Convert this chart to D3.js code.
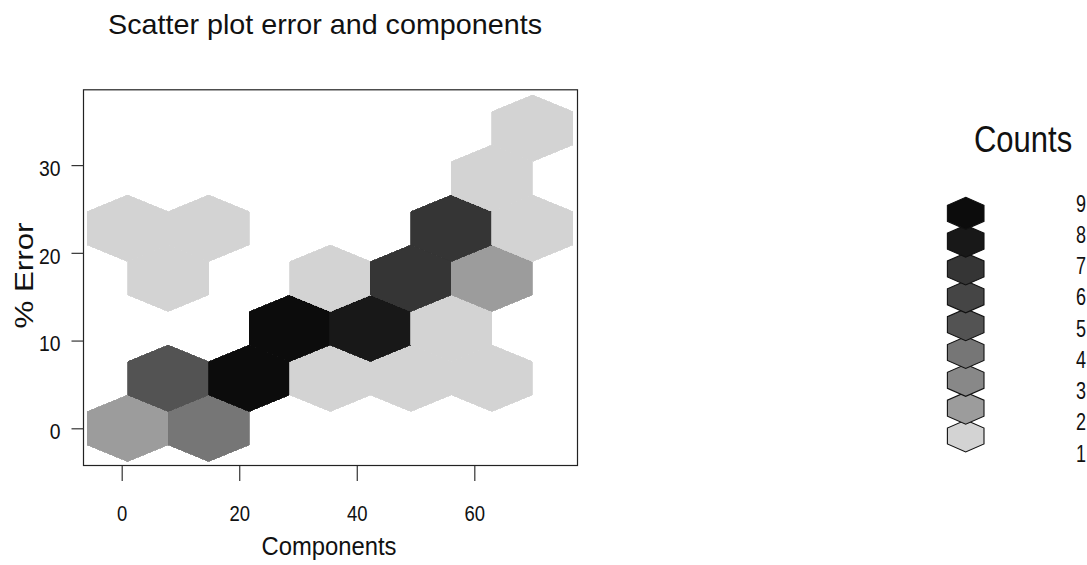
<!DOCTYPE html>
<html>
<head>
<meta charset="utf-8">
<script src="https://cdn.jsdelivr.net/npm/d3@7"></script>
<style>
  body { margin: 0; background: #fff; }
  svg { display: block; }
  text { font-family: "Liberation Sans", Arial, sans-serif; fill: #111; }
</style>
</head>
<body>
<div id="chart"></div>
<script>
// hexbin cells (centre x, centre y, count)
const cellX = [1.0, 14.8, 7.9, 21.7, 35.5, 49.2, 63.0, 28.6, 42.3, 56.1, 7.9, 35.5, 49.2, 63.0, 1.0, 14.8, 56.1, 69.9, 63.0, 69.9];
const cellY = [0, 0, 5.7, 5.7, 5.7, 5.7, 5.7, 11.4, 11.4, 11.4, 17.1, 17.1, 17.1, 17.1, 22.8, 22.8, 22.8, 22.8, 28.5, 34.2];
const cellCount = [2, 4, 5, 9, 1, 1, 1, 9, 8, 1, 1, 1, 7, 2, 1, 1, 7, 1, 1, 1];

const countLevels = [1, 2, 3, 4, 5, 6, 7, 8, 9];
const countColours = ["#d3d3d3", "#9c9c9c", "#888888", "#767676", "#535353", "#454545", "#353535", "#181818", "#0c0c0c"];

const xTicks = [0, 20, 40, 60];
const yTicks = [0, 10, 20, 30];

const title = "Scatter plot error and components";
const xLabel = "Components";
const yLabel = "% Error";
const legendTitle = "Counts";

// hexagon half sizes in data units
const hexHalfW = 6.89,
  hexHalfH = 3.79;

var width = 1087,
  height = 565;
var box = { left: 83, right: 577.5, top: 89.3, bottom: 465.5 };

var svg = d3
  .select("#chart")
  .append("svg")
  .attr("width", width)
  .attr("height", height);

var x = d3.scaleLinear().domain([-6.585, 77.56]).range([box.left, box.right]);
var y = d3.scaleLinear().domain([-4.24, 38.64]).range([box.bottom, box.top]);

var colour = d3.scaleOrdinal().domain(countLevels).range(countColours);

const cells = cellX.map((cx, i) => ({ cx: cx, cy: cellY[i], n: cellCount[i] }));

const hexOffsets = [
  [0, hexHalfH],
  [hexHalfW, hexHalfH / 2],
  [hexHalfW, -hexHalfH / 2],
  [0, -hexHalfH],
  [-hexHalfW, -hexHalfH / 2],
  [-hexHalfW, hexHalfH / 2],
];

function hexPath(d) {
  return (
    "M" +
    hexOffsets.map((o) => x(d.cx + o[0]) + "," + y(d.cy + o[1])).join("L") +
    "Z"
  );
}

svg
  .append("g")
  .attr("shape-rendering", "crispEdges")
  .selectAll("path")
  .data(cells)
  .enter()
  .append("path")
  .attr("d", hexPath)
  .attr("fill", (d) => colour(d.n))
  .attr("stroke", (d) => colour(d.n))
  .attr("stroke-width", 0.8);

// frame
svg
  .append("rect")
  .attr("x", box.left + 0.5)
  .attr("y", box.top + 0.5)
  .attr("width", box.right - box.left - 0.5)
  .attr("height", box.bottom - box.top - 0.5)
  .attr("fill", "none")
  .attr("stroke", "#222")
  .attr("stroke-width", 1.2);

function squeeze(sel, ratio) {
  sel.each(function () {
    var len = this.getComputedTextLength();
    d3.select(this).attr("textLength", len * ratio).attr("lengthAdjust", "spacingAndGlyphs");
  });
}

var xAxis = svg
  .append("g")
  .attr("transform", "translate(0," + (box.bottom + 0.5) + ")")
  .call(d3.axisBottom(x).tickValues(xTicks).tickSizeInner(15).tickSizeOuter(0).tickPadding(24));
xAxis.select(".domain").remove();
xAxis.selectAll("line").attr("stroke", "#333").attr("stroke-width", 1.2);
xAxis
  .selectAll("text")
  .style("font-size", "22px")
  .call(squeeze, 0.84);

var yAxis = svg
  .append("g")
  .attr("transform", "translate(" + (box.left + 0.5) + ",0)")
  .call(d3.axisLeft(y).tickValues(yTicks).tickSizeInner(12).tickSizeOuter(0).tickPadding(11));
yAxis.select(".domain").remove();
yAxis.selectAll("line").attr("stroke", "#333").attr("stroke-width", 1.2);
yAxis
  .selectAll("text")
  .attr("dy", "0.47em")
  .style("font-size", "22px")
  .call(squeeze, 0.88);
svg.selectAll(".tick text").attr("fill", "#111");
svg.selectAll("g").attr("font-family", null);

svg
  .append("text")
  .attr("x", 325)
  .attr("y", 33.5)
  .attr("text-anchor", "middle")
  .style("font-size", "28px")
  .attr("textLength", 434)
  .attr("lengthAdjust", "spacingAndGlyphs")
  .text(title);

svg
  .append("text")
  .attr("x", 329)
  .attr("y", 555)
  .attr("text-anchor", "middle")
  .style("font-size", "26px")
  .attr("textLength", 135)
  .attr("lengthAdjust", "spacingAndGlyphs")
  .text(xLabel);

svg
  .append("text")
  .attr("transform", "translate(33,275.5) rotate(-90)")
  .attr("text-anchor", "middle")
  .style("font-size", "25px")
  .attr("textLength", 106)
  .attr("lengthAdjust", "spacingAndGlyphs")
  .text(yLabel);

// legend (text stretched vertically, kept at natural width)
svg
  .append("text")
  .attr("transform", "translate(974,151.7) scale(1,1.17)")
  .style("font-size", "31px")
  .text(legendTitle);

var legHexY = d3.scaleLinear().domain([1, 9]).range([436, 213.3]);
var legLabelY = d3.scaleLinear().domain([1, 9]).range([461.5, 211.5]);
var legX = 965.7,
  legHalfW = 18.3,
  legR = 16;

svg
  .append("g")
  .selectAll("path")
  .data(countLevels)
  .enter()
  .append("path")
  .attr("d", (n) => {
    var cy = legHexY(n);
    return (
      "M" + legX + "," + (cy - legR) +
      "L" + (legX + legHalfW) + "," + (cy - legR / 2) +
      "L" + (legX + legHalfW) + "," + (cy + legR / 2) +
      "L" + legX + "," + (cy + legR) +
      "L" + (legX - legHalfW) + "," + (cy + legR / 2) +
      "L" + (legX - legHalfW) + "," + (cy - legR / 2) + "Z"
    );
  })
  .attr("fill", (n) => colour(n))
  .attr("stroke", "#111")
  .attr("stroke-width", 1.1);

svg
  .append("g")
  .selectAll("text")
  .data(countLevels)
  .enter()
  .append("text")
  .attr("transform", (n) => "translate(1076," + legLabelY(n) + ") scale(1,1.35)")
  .style("font-size", "18px")
  .text((n) => n);
</script>
</body>
</html>
